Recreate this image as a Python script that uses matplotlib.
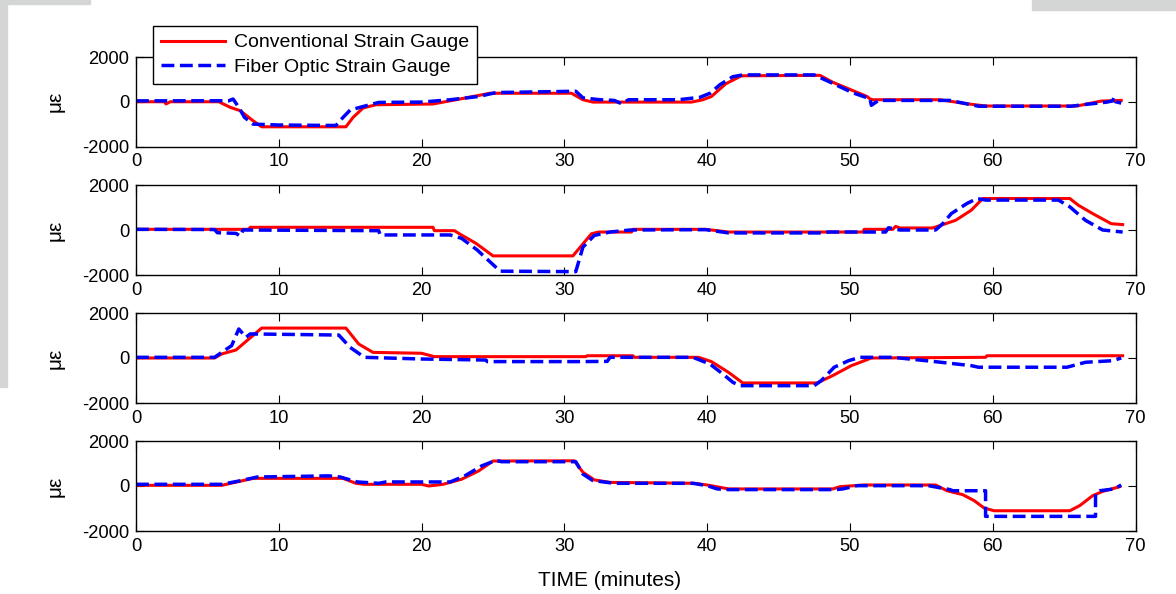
import numpy as np
import matplotlib
matplotlib.use("Agg")
import matplotlib.pyplot as plt
from matplotlib.patches import Rectangle

plt.rcParams['font.family'] = ['Liberation Sans', 'DejaVu Sans']
plt.rcParams['axes.unicode_minus'] = False

# ---- data (time in minutes, strain in microstrain) ----
p1_conv_t = [0, 2.0, 2.1, 2.4, 5.8, 6.6, 7.3, 8.2, 8.8, 14.7, 15.2, 15.9, 16.8, 20.8, 22.5,
             24.8, 30.5, 31.3, 32.0, 38.9, 39.7, 40.3, 41.3, 42.4, 47.9, 48.8, 50.2, 51.2,
             51.4, 51.6, 56.3, 58.2, 59.5, 65.9, 66.9, 67.6, 69.0]
p1_conv_v = [0, 0, -100, 0, 0, -250, -400, -850, -1120, -1120, -700, -280, -135, -100, 100,
             380, 380, 90, -15, -15, 90, 235, 800, 1160, 1180, 870, 500, 235,
             130, 90, 90, -90, -190, -190, -60, 30, 60]
p1_fiber_t = [0, 6.5, 6.8, 7.2, 7.6, 8.2, 10.0, 14.0, 14.5, 15.0, 16.1, 17.0, 20.0, 22.0, 24.0,
              25.2, 30.8, 31.3, 32.5, 33.5, 34.0, 34.5, 38.0, 39.5, 40.2, 40.9, 41.8, 42.5,
              47.5, 48.7, 50.2, 51.2, 51.4, 51.5, 52.0, 57.0, 59.0, 65.5, 66.5, 68.0, 68.4,
              68.5, 68.6, 69.0]
p1_fiber_v = [40, 45, 120, -250, -700, -1000, -1040, -1060, -700, -370, -180, -30, -15, 90, 235,
              410, 470, 175, 90, 60, -90, 90, 90, 200, 380, 765, 1120, 1200,
              1200, 850, 400, 180, 150, -160, 60, 60, -200, -200, -120, -15, 40,
              200, 0, -60]

p2_conv_t = [0, 7.9, 8.0, 20.8, 20.9, 22.3, 22.6, 23.8, 25.0, 30.6, 31.9, 32.4, 34.7, 34.8,
             39.9, 41.5, 50.9, 51.0, 53.0, 53.2, 53.5, 55.8, 57.4, 58.5, 59.3, 65.4, 66.0,
             67.0, 68.3, 69.1]
p2_conv_v = [30, 30, 120, 120, -30, -30, -150, -590, -1150, -1150, -165, -90, -90, 30,
             30, -90, -90, 30, 30, 160, 90, 90, 430, 880, 1400, 1400, 1100,
             730, 280, 240]
p2_fiber_t = [0, 5.5, 5.7, 7.0, 7.3, 7.5, 17.0, 17.1, 22.0, 22.8, 23.9, 25.5, 30.8, 31.3,
              32.1, 33.2, 34.6, 39.9, 41.5, 48.0, 48.5, 52.5, 52.7, 53.5, 56.0, 56.5, 57.1,
              58.2, 58.9, 59.5, 64.6, 65.4, 66.5, 67.7, 69.1]
p2_fiber_v = [30, 20, -120, -150, -270, 0, -30, -220, -220, -370, -890, -1830, -1850, -760,
              -240, -90, 0, 15, -130, -130, -90, -90, 100, 0, 0, 280, 730,
              1180, 1400, 1330, 1330, 1030, 430, 0, -90]

p3_conv_t = [0, 5.5, 6.0, 7.0, 8.8, 14.7, 15.6, 16.6, 20.0, 20.9, 31.5, 31.6, 34.8, 34.9,
             39.4, 40.3, 41.5, 42.5, 47.7, 48.8, 50.1, 51.5, 59.5, 59.6, 69.1]
p3_conv_v = [0, 0, 180, 355, 1330, 1330, 620, 250, 210, 60, 60, 100, 100, 30,
             30, -160, -640, -1110, -1110, -780, -340, 0, 30, 100, 100]
p3_fiber_t = [0, 5.5, 6.0, 6.7, 7.2, 7.7, 8.0, 14.2, 15.0, 16.0, 20.0, 24.5, 24.6, 31.0,
              33.0, 33.2, 39.0, 40.2, 41.1, 41.8, 42.3, 47.5, 48.0, 48.9, 49.9, 50.7, 53.0,
              55.8, 58.5, 59.0, 65.2, 66.5, 68.4, 69.0]
p3_fiber_v = [30, 30, 250, 550, 1290, 920, 1070, 1020, 470, 30, -45, -90, -160, -160,
              -150, 30, 30, -270, -710, -1080, -1230, -1230, -1000, -410, -120, 30, 30,
              -150, -340, -410, -410, -190, -120, 0]

p4_conv_t = [0, 6.0, 8.2, 14.5, 15.4, 16.0, 20.0, 20.5, 21.5, 22.8, 24.0, 25.0, 30.7, 31.3,
             32.1, 33.2, 39.1, 40.0, 41.5, 48.8, 49.3, 51.0, 56.0, 56.8, 57.9, 58.7, 59.4,
             60.1, 65.4, 66.1, 67.0, 67.7, 68.9]
p4_conv_v = [30, 30, 340, 340, 120, 75, 75, 0, 75, 300, 670, 1110, 1120, 610,
             270, 160, 120, 45, -130, -130, -30, 45, 45, -210, -385, -650, -980,
             -1100, -1100, -870, -430, -240, -30]
p4_fiber_t = [0, 6.0, 7.2, 8.5, 13.5, 14.3, 15.5, 17.0, 17.5, 22.0, 23.0, 24.2, 25.2, 25.6,
              30.8, 31.3, 32.0, 33.5, 39.0, 40.0, 40.7, 41.5, 49.0, 49.5, 50.5, 55.5, 57.0,
              57.2, 59.5, 59.5, 67.2, 67.2, 67.5, 68.5, 69.0]
p4_fiber_v = [75, 75, 220, 400, 450, 400, 180, 120, 180, 180, 440, 890, 1140, 1080,
              1080, 530, 240, 120, 120, 15, -130, -160, -160, -130, 15, 15, -160,
              -210, -210, -1350, -1350, -355, -210, -130, 45]

panels = [(p1_conv_t, p1_conv_v, p1_fiber_t, p1_fiber_v),
          (p2_conv_t, p2_conv_v, p2_fiber_t, p2_fiber_v),
          (p3_conv_t, p3_conv_v, p3_fiber_t, p3_fiber_v),
          (p4_conv_t, p4_conv_v, p4_fiber_t, p4_fiber_v)]

x_ticks = [0, 10, 20, 30, 40, 50, 60, 70]
y_ticks = [-2000, 0, 2000]

W, H = 1176, 594
fig = plt.figure(figsize=(W / 100, H / 100), dpi=100)

# grey screenshot edges
grey = '#d4d6d5'
for (x0, y0, w, h) in [(0, 0, 90, 4), (0, 0, 7, 387), (1032, 0, 144, 10)]:
    fig.patches.append(Rectangle((x0 / W, 1 - (y0 + h) / H), w / W, h / H,
                                 transform=fig.transFigure, color=grey, zorder=0))

# axes boxes in pixels (top, bottom)
boxes = [(57, 146.5), (185, 275), (313, 403), (441, 531)]
left, right = 136, 1135.5

axes = []
for (top, bot), (ct, cv, ft, fv) in zip(boxes, panels):
    ax = fig.add_axes([left / W, 1 - bot / H, (right - left) / W, (bot - top) / H])
    l1, = ax.plot(ct, cv, color=(1, 0, 0), lw=2.2, solid_joinstyle='round')
    l2, = ax.plot(ft, fv, color=(0, 0, 1), lw=2.5, ls='--')
    ax.set_xlim(0, 70)
    ax.set_ylim(-2000, 2000)
    ax.set_xticks(x_ticks)
    ax.set_yticks(y_ticks)
    ax.tick_params(direction='in', top=True, right=True, length=6, width=0.8,
                   labelsize=13.2, pad=5)
    for s in ax.spines.values():
        s.set_linewidth(1.0)
    ax.set_ylabel('με', fontsize=15)
    ax.yaxis.set_label_coords(-0.071, 0.5)
    axes.append(ax)

leg = axes[0].legend([l1, l2], ['Conventional Strain Gauge', 'Fiber Optic Strain Gauge'],
                     loc='upper left', bbox_to_anchor=(153 / W, 1 - 26 / H),
                     bbox_transform=fig.transFigure, borderaxespad=0,
                     fontsize=14, handlelength=3.3, handletextpad=0.45,
                     borderpad=0.4, labelspacing=0.35, fancybox=False,
                     framealpha=1, edgecolor='black')
leg.get_frame().set_linewidth(1.0)
leg.set_zorder(10)

fig.text(610 / W, 1 - 580 / H, 'TIME (minutes)', fontsize=15, ha='center', va='center')

fig.savefig('out.png', dpi=100)
